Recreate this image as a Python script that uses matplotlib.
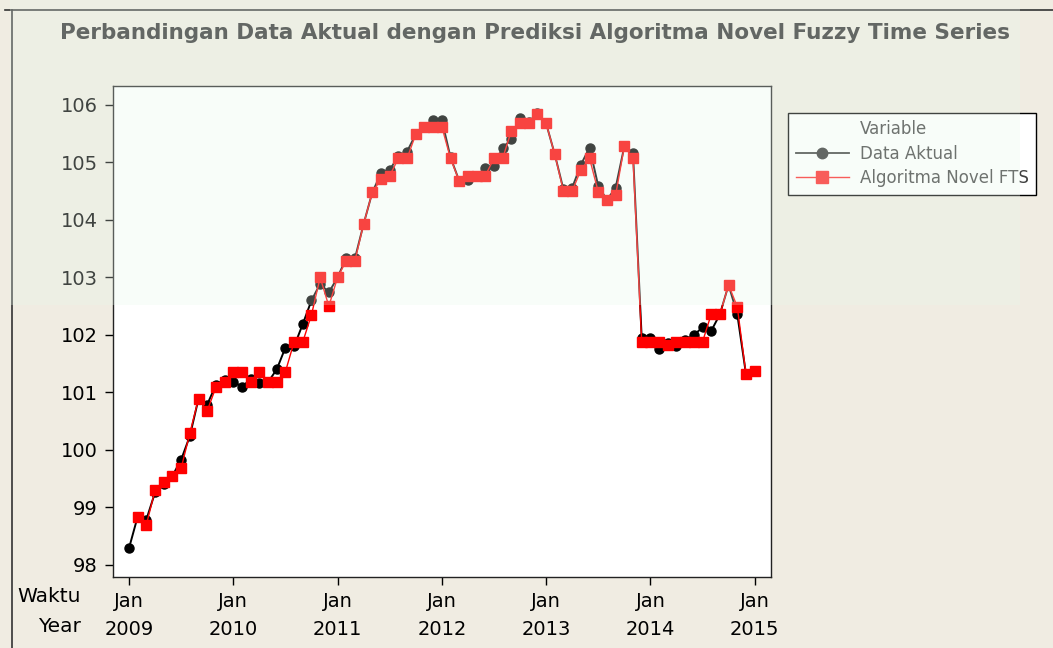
import numpy as np
import matplotlib
matplotlib.use('Agg')
import matplotlib.pyplot as plt
from matplotlib.lines import Line2D
from matplotlib.patches import Rectangle

# Data Aktual, Jan 2009 .. Dec 2014 (month index 0..71)
aktual = [98.29, 98.84, 98.79, 99.26, 99.41, 99.55, 99.83, 100.24, 100.89, 100.79, 101.13, 101.22,
          101.19, 101.10, 101.23, 101.16, 101.18, 101.40, 101.78, 101.80, 102.19, 102.60, 102.89, 102.74,
          103.00, 103.34, 103.33, 103.93, 104.48, 104.81, 104.87, 105.11, 105.19, 105.49, 105.62, 105.74,
          105.74, 105.09, 104.68, 104.70, 104.77, 104.90, 104.94, 105.26, 105.40, 105.77, 105.70, 105.86,
          105.68, 105.14, 104.53, 104.56, 104.96, 105.26, 104.59, 104.35, 104.56, 105.28, 105.16, 101.95,
          101.95, 101.76, 101.86, 101.80, 101.91, 102.00, 102.13, 102.07, 102.36, 102.87, 102.36, 101.32]

# Algoritma Novel FTS, Feb 2009 .. Jan 2015 (month index 1..72)
prediksi = [98.84, 98.70, 99.30, 99.45, 99.55, 99.68, 100.29, 100.89, 100.68, 101.09, 101.18,
            101.35, 101.35, 101.18, 101.35, 101.18, 101.18, 101.36, 101.88, 101.88, 102.35, 103.00, 102.50,
            103.00, 103.29, 103.29, 103.93, 104.48, 104.71, 104.77, 105.07, 105.07, 105.49, 105.62, 105.62,
            105.62, 105.07, 104.68, 104.77, 104.77, 104.77, 105.07, 105.07, 105.55, 105.69, 105.69, 105.84,
            105.68, 105.14, 104.50, 104.50, 104.87, 105.07, 104.49, 104.35, 104.43, 105.28, 105.07, 101.88,
            101.88, 101.87, 101.83, 101.88, 101.88, 101.88, 101.88, 102.36, 102.36, 102.87, 102.49, 101.32,
            101.38]

years = ['2009', '2010', '2011', '2012', '2013', '2014', '2015']
yticks = [98, 99, 100, 101, 102, 103, 104, 105, 106]

W, H = 1053, 648
bg = '#F0ECE2'
fig = plt.figure(figsize=(W / 100, H / 100), dpi=100, facecolor=bg)
ax = fig.add_axes([113 / W, 1 - 577 / H, (771 - 113) / W, (577 - 86) / H])
ax.set_facecolor('white')

x_akt = np.arange(len(aktual))
x_pred = np.arange(1, len(prediksi) + 1)
ax.plot(x_akt, aktual, color='black', lw=1.4, marker='o', ms=6.5, label='Data Aktual', zorder=3)
ax.plot(x_pred, prediksi, color='#FF0000', lw=1.0, marker='s', ms=7, label='Algoritma Novel FTS', zorder=4)

ax.set_xlim(-1.84, 73.88)
ax.set_ylim(97.79, 106.33)
ax.set_yticks(yticks)
ax.set_yticklabels([str(v) for v in yticks], fontsize=14)
ax.set_xticks(np.arange(0, 73, 12))
ax.set_xticklabels(['Jan\n' + y for y in years], fontsize=14, linespacing=1.55)
ax.tick_params(axis='both', direction='out', length=6, width=1, colors='black', pad=5)
for s in ax.spines.values():
    s.set_linewidth(1.0)
    s.set_color('#222222')

fig.text(81 / W, 1 - 597 / H, 'Waktu', ha='right', va='center', fontsize=14.5)
fig.text(81 / W, 1 - 627 / H, 'Year', ha='right', va='center', fontsize=14.5)

fig.text(535 / W, 1 - 33 / H,
         'Perbandingan Data Aktual dengan Prediksi Algoritma Novel Fuzzy Time Series',
         ha='center', va='center', fontsize=15.5, fontweight='bold', color='#303030')

# legend with "Variable" as a handle-less first row
blank = Line2D([], [], linestyle='none', marker=None)
h1 = Line2D([], [], color='#303030', lw=1.3, marker='o', ms=7.5)
h2 = Line2D([], [], color='#FF2222', lw=1.0, marker='s', ms=8)
leg = fig.legend([blank, h1, h2], ['Variable', 'Data Aktual', 'Algoritma Novel FTS'],
                 loc='upper left', bbox_to_anchor=(788 / W, 1 - 113 / H), borderaxespad=0,
                 fontsize=12, handlelength=3.2, handletextpad=0.65, labelspacing=0.38,
                 borderpad=0.45, fancybox=False, framealpha=1, edgecolor='black',
                 labelcolor='#404040')
leg.get_frame().set_linewidth(1.0)

# outer frame of the graph window
fig.add_artist(Line2D([5 / W, 1], [1 - 10 / H, 1 - 10 / H], color='#333333', lw=1.2,
                      transform=fig.transFigure))
fig.add_artist(Line2D([12 / W, 12 / W], [0, 1 - 10 / H], color='#333333', lw=1.2,
                      transform=fig.transFigure))

# faint library watermark band over the upper part
fig.add_artist(Rectangle((10 / W, 1 - 305 / H), (1020 - 10) / W, 305 / H,
                         transform=fig.transFigure, facecolor='#E8F8EC', alpha=0.28,
                         edgecolor='none', zorder=10))

fig.savefig('out.png', dpi=100, facecolor=bg)
